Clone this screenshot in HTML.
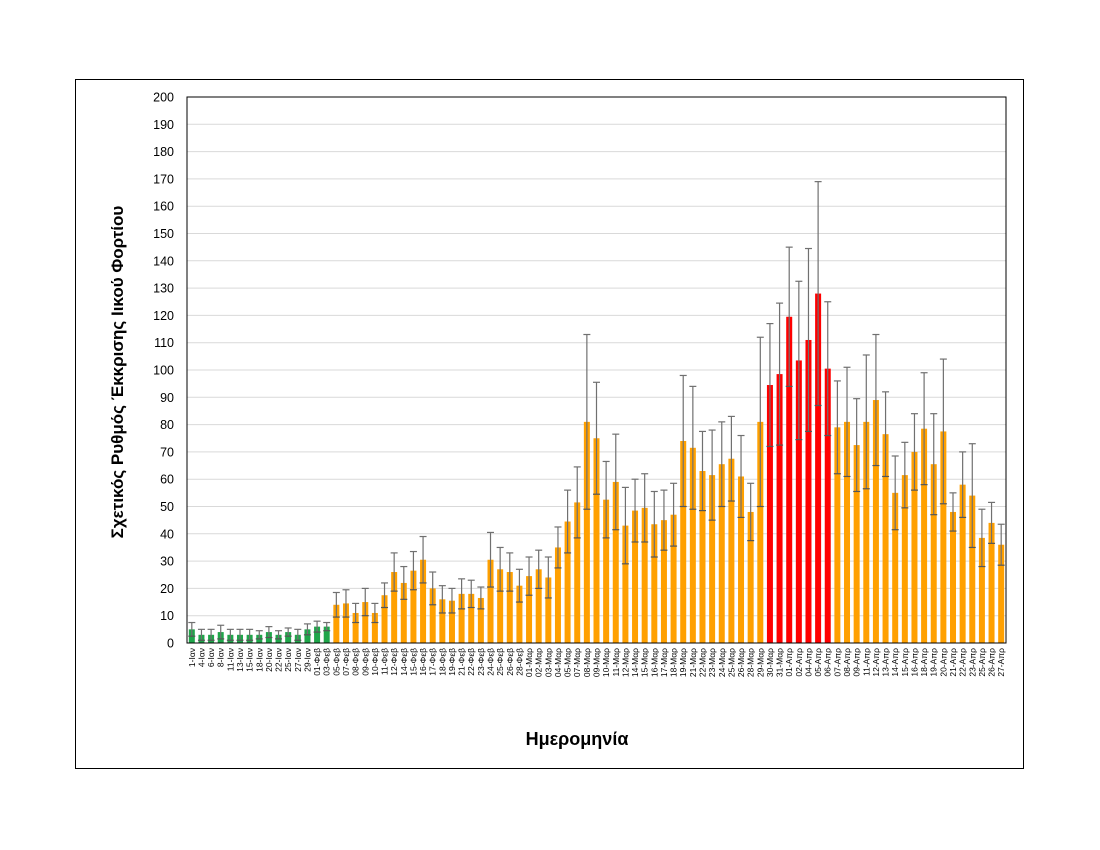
<!DOCTYPE html>
<html><head><meta charset="utf-8"><style>
body{margin:0;background:#fff;width:1100px;height:850px;overflow:hidden}
svg{display:block}
text{font-family:"Liberation Sans","DejaVu Sans",sans-serif}
</style></head><body>
<svg id="s" width="1100" height="850" xmlns="http://www.w3.org/2000/svg">
<rect x="75.5" y="79.5" width="948" height="689" fill="#fff" stroke="#000" stroke-width="1"/>
<g id="g"></g>
<text x="577" y="745" text-anchor="middle" font-size="18" font-weight="bold">Ημερομηνία</text>
<text transform="translate(123,372) rotate(-90)" text-anchor="middle" font-size="17" font-weight="bold">Σχετικός Ρυθμός Έκκρισης Ιικού Φορτίου</text>
</svg>
<script>
var labels="1-Ιαν,4-Ιαν,6-Ιαν,8-Ιαν,11-Ιαν,13-Ιαν,15-Ιαν,18-Ιαν,20-Ιαν,22-Ιαν,25-Ιαν,27-Ιαν,29-Ιαν,01-Φεβ,03-Φεβ,05-Φεβ,07-Φεβ,08-Φεβ,09-Φεβ,10-Φεβ,11-Φεβ,12-Φεβ,14-Φεβ,15-Φεβ,16-Φεβ,17-Φεβ,18-Φεβ,19-Φεβ,21-Φεβ,22-Φεβ,23-Φεβ,24-Φεβ,25-Φεβ,26-Φεβ,28-Φεβ,01-Μαρ,02-Μαρ,03-Μαρ,04-Μαρ,05-Μαρ,07-Μαρ,08-Μαρ,09-Μαρ,10-Μαρ,11-Μαρ,12-Μαρ,14-Μαρ,15-Μαρ,16-Μαρ,17-Μαρ,18-Μαρ,19-Μαρ,21-Μαρ,22-Μαρ,23-Μαρ,24-Μαρ,25-Μαρ,26-Μαρ,28-Μαρ,29-Μαρ,30-Μαρ,31-Μαρ,01-Απρ,02-Απρ,04-Απρ,05-Απρ,06-Απρ,07-Απρ,08-Απρ,09-Απρ,11-Απρ,12-Απρ,13-Απρ,14-Απρ,15-Απρ,16-Απρ,18-Απρ,19-Απρ,20-Απρ,21-Απρ,22-Απρ,23-Απρ,25-Απρ,26-Απρ,27-Απρ".split(",");
var d=[[5,7.5],[3,5],[3,5],[4,6.5],[3,5],[3,5],[3,5],[3,4.5],[4,6],[3,4.5],[4,5.5],[3,5],[5,7],[6,8],[6,7.5],
[14,18.5],[14.5,19.5],[11,14.5],[15,20],[11,14.5],[17.5,22],[26,33],[22,28],[26.5,33.5],[30.5,39],[20,26],[16,21],[15.5,20],[18,23.5],[18,23],[16.5,20.5],[30.5,40.5],[27,35],[26,33],[21,27],
[24.5,31.5],[27,34],[24,31.5],[35,42.5],[44.5,56],[51.5,64.5],[81,113],[75,95.5],[52.5,66.5],[59,76.5],[43,57],[48.5,60],[49.5,62],[43.5,55.5],[45,56],[47,58.5],[74,98],[71.5,94],[63,77.5],[61.5,78],[65.5,81],[67.5,83],[61,76],[48,58.5],[81,112],[94.5,117],[98.5,124.5],
[119.5,145],[103.5,132.5],[111,144.5],[128,169],[100.5,125],[79,96],[81,101],[72.5,89.5],[81,105.5],[89,113],[76.5,92],[55,68.5],[61.5,73.5],[70,84],[78.5,99],[65.5,84],[77.5,104],[48,55],[58,70],[54,73],[38.5,49],[44,51.5],[36,43.5]];
var L=187,R=1006,T=97,B=643,k=(B-T)/200,n=85,w=(R-L)/n;
var h='';
for(var v=0;v<=200;v+=10){var y=B-v*k;
 if(v>0&&v<200)h+='<line x1="'+L+'" x2="'+R+'" y1="'+y+'" y2="'+y+'" stroke="#d9d9d9"/>';
 h+='<text x="174" y="'+(y+4.5)+'" text-anchor="end" font-size="12.5">'+v+'</text>';}
for(var i=0;i<n;i++){var c=L+w*(i+0.5),v=d[i][0],u=d[i][1],lo=2*v-u;
 var col=i<15?'#1fa64a':(i>=60&&i<=66?'#ff0000':'#ffa000');
 h+='<rect x="'+(c-3)+'" y="'+(B-v*k)+'" width="6" height="'+(v*k)+'" fill="'+col+'"/>';
 h+='<line x1="'+c+'" x2="'+c+'" y1="'+(B-u*k)+'" y2="'+(B-lo*k)+'" stroke="#707070" stroke-width="1.2"/>';
 h+='<line x1="'+(c-3.5)+'" x2="'+(c+3.5)+'" y1="'+(B-u*k)+'" y2="'+(B-u*k)+'" stroke="#707070" stroke-width="1.2"/>';
 h+='<line x1="'+(c-3.5)+'" x2="'+(c+3.5)+'" y1="'+(B-lo*k)+'" y2="'+(B-lo*k)+'" stroke="#555" stroke-width="1.2"/>';
 h+='<text transform="translate('+(c+3)+',648) rotate(-90)" text-anchor="end" font-size="8.5">'+labels[i]+'</text>';}
h+='<rect x="'+L+'" y="'+T+'" width="'+(R-L)+'" height="'+(B-T)+'" fill="none" stroke="#000" stroke-width="1"/>';
document.getElementById('g').innerHTML=h;
</script>
</body></html>
